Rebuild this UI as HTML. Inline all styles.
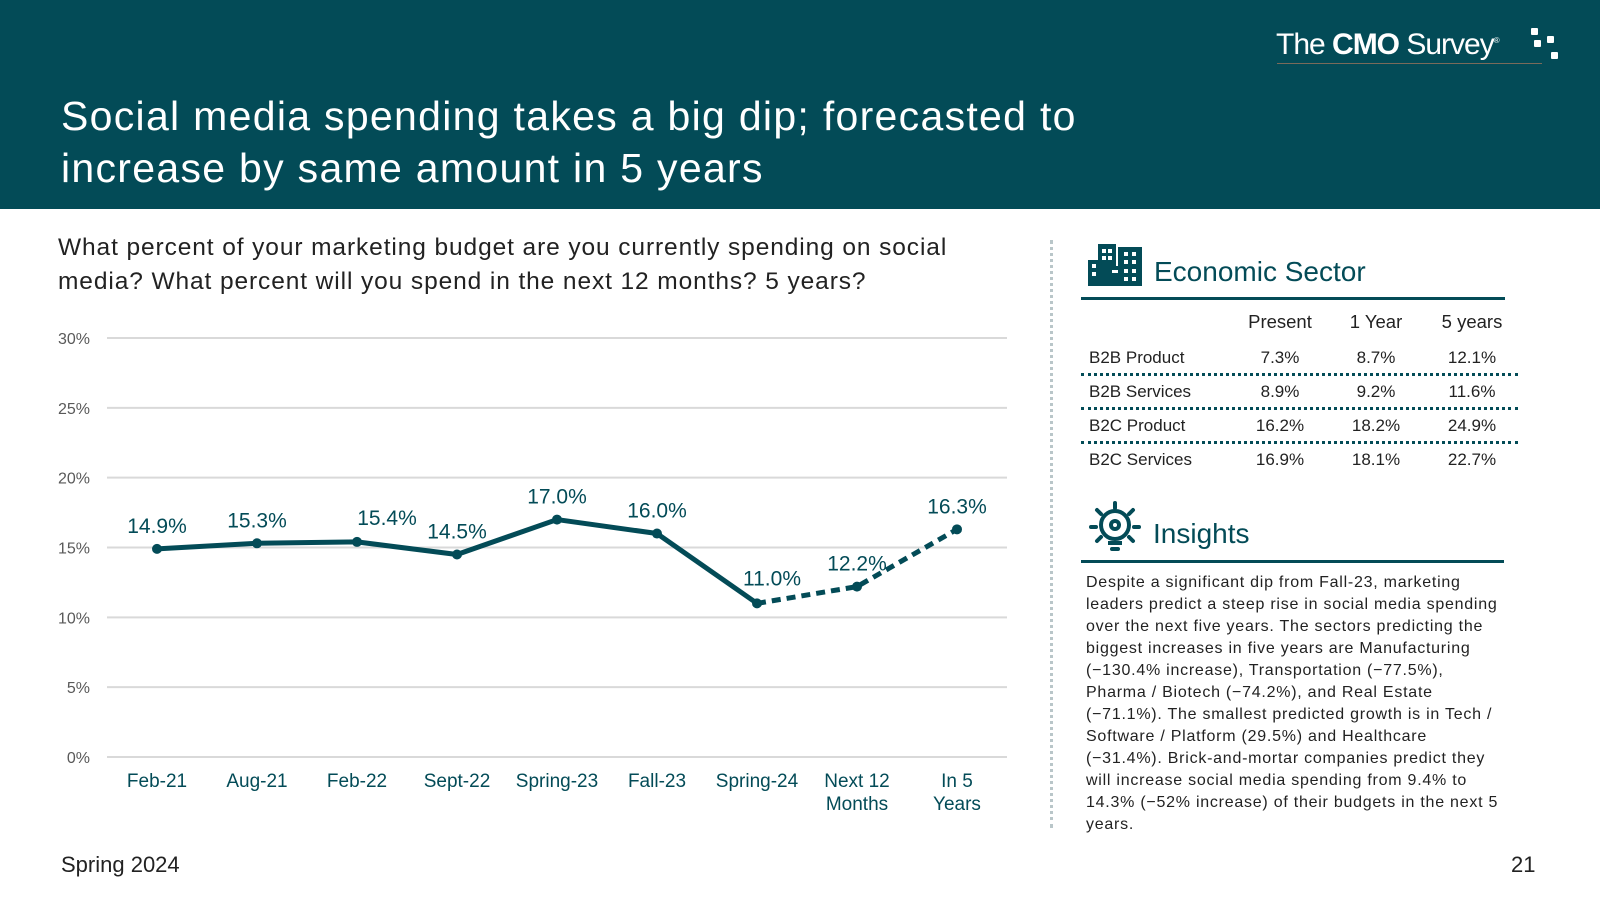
<!DOCTYPE html>
<html><head><meta charset="utf-8"><style>
body{margin:0;width:1600px;height:900px;background:#fff;font-family:"Liberation Sans",sans-serif;position:relative;overflow:hidden;color:#222}
.a{position:absolute;white-space:nowrap}
.teal{color:#034b57}
</style></head><body>
<div class="a" style="left:0;top:0;width:1600px;height:209px;background:#034b57"></div>
<div class="a" style="left:61px;top:90px;color:#fff;font-size:41px;line-height:52px;letter-spacing:1.3px;white-space:nowrap;width:1200px">Social media spending takes a big dip; forecasted to<br>increase by same amount in 5 years</div>
<div class="a" style="left:1276px;top:28px;color:#fff;font-size:30px;letter-spacing:-1px"><span style="font-weight:300">The </span><b>CMO</b><span> Survey</span><sup style="font-size:8px">®</sup></div>
<div class="a" style="left:1277px;top:63px;width:265px;height:1px;background:#7a6a5a"></div>
<svg class="a" style="left:1528px;top:26px" width="40" height="40"><rect x="3" y="2" width="7" height="7" rx="1" fill="#fff"/><rect x="6" y="14" width="7" height="7" rx="1" fill="#fff"/><rect x="19" y="10" width="7" height="7" rx="1" fill="#fff"/><rect x="23" y="26" width="7" height="7" rx="1" fill="#fff"/></svg>

<div class="a" style="left:58px;top:231px;font-size:24.5px;line-height:34px;letter-spacing:0.9px">What percent of your marketing budget are you currently spending on social<br>media? What percent will you spend in the next 12 months? 5 years?</div>

<svg id="chart" class="a" style="left:0;top:300px" width="1040" height="530"></svg>

<div class="a" style="left:1050px;top:240px;height:588px;border-left:3px dotted #b9c6c9"></div>

<svg class="a" style="left:1088px;top:244px" width="56" height="42" viewBox="0 0 56 42">
<rect x="0" y="16" width="18" height="26" fill="#034b57"/><rect x="10" y="0" width="18" height="42" fill="#034b57"/><rect x="30" y="3" width="24" height="39" fill="#034b57"/><rect x="20" y="22" width="14" height="20" fill="#034b57"/>
<g fill="#fff"><rect x="4" y="20" width="4" height="4"/><rect x="4" y="28" width="4" height="4"/><rect x="14" y="5" width="4" height="4"/><rect x="20" y="5" width="4" height="4"/><rect x="14" y="12" width="4" height="4"/><rect x="20" y="12" width="4" height="4"/><rect x="24" y="26" width="6" height="3"/><rect x="36" y="8" width="4" height="4"/><rect x="44" y="8" width="4" height="4"/><rect x="36" y="16" width="4" height="4"/><rect x="44" y="16" width="4" height="4"/><rect x="36" y="25" width="4" height="4"/><rect x="44" y="25" width="4" height="4"/><rect x="36" y="33" width="4" height="4"/><rect x="44" y="33" width="4" height="4"/></g></svg>
<div class="a teal" style="left:1154px;top:256px;font-size:28px">Economic Sector</div>
<div class="a" style="left:1081px;top:297px;width:424px;height:3px;background:#034b57"></div>

<div id="tbl"></div>

<svg class="a" style="left:1089px;top:501px" width="52" height="52" viewBox="0 0 52 52">
<g stroke="#034b57" stroke-width="4" stroke-linecap="round"><line x1="26" y1="2" x2="26" y2="7"/><line x1="8" y1="9" x2="12" y2="13"/><line x1="44" y1="9" x2="40" y2="13"/><line x1="2" y1="26" x2="7" y2="26"/><line x1="45" y1="26" x2="50" y2="26"/><line x1="8" y1="40" x2="12" y2="36"/><line x1="44" y1="40" x2="40" y2="36"/></g>
<circle cx="26" cy="24" r="14" fill="none" stroke="#034b57" stroke-width="4"/><circle cx="26" cy="24" r="6" fill="#034b57"/><circle cx="26" cy="24" r="2" fill="#fff"/>
<rect x="19" y="40" width="14" height="4" fill="#034b57"/><rect x="21" y="46" width="10" height="4" rx="2" fill="#034b57"/></svg>
<div class="a teal" style="left:1153px;top:518px;font-size:28px">Insights</div>
<div class="a" style="left:1081px;top:560px;width:423px;height:3px;background:#034b57"></div>
<div class="a" style="left:1086px;top:572px;font-size:16px;line-height:22px;letter-spacing:0.75px;color:#222">Despite a significant dip from Fall-23, marketing<br>leaders predict a steep rise in social media spending<br>over the next five years. The sectors predicting the<br>biggest increases in five years are Manufacturing<br>(−130.4% increase), Transportation (−77.5%),<br>Pharma / Biotech (−74.2%), and Real Estate<br>(−71.1%). The smallest predicted growth is in Tech /<br>Software / Platform (29.5%) and Healthcare<br>(−31.4%). Brick-and-mortar companies predict they<br>will increase social media spending from 9.4% to<br>14.3% (−52% increase) of their budgets in the next 5<br>years.</div>

<div class="a" style="left:61px;top:852px;font-size:22px">Spring 2024</div>
<div class="a" style="left:1511px;top:852px;font-size:22px">21</div>

<script>
const categories=["Feb-21","Aug-21","Feb-22","Sept-22","Spring-23","Fall-23","Spring-24","Next 12|Months","In 5|Years"];
const values=[14.9,15.3,15.4,14.5,17.0,16.0,11.0,12.2,16.3];
const valueLabels=["14.9%","15.3%","15.4%","14.5%","17.0%","16.0%","11.0%","12.2%","16.3%"];
const yTicks=[0,5,10,15,20,25,30];
const yTickLabels=["0%","5%","10%","15%","20%","25%","30%"];
const forecastStart=6;
const labelOffsets=[[0,-16],[0,-16],[30,-17],[0,-16],[0,-16],[0,-16],[15,-18],[0,-16],[0,-16]];

const svg=document.getElementById('chart');
const NS='http://www.w3.org/2000/svg';
const T=300;
const x0=107,band=100,yTop=338-T,yBot=757-T,yMax=30;
const xs=i=>x0+band*(i+0.5);
const ys=v=>yBot-(v/yMax)*(yBot-yTop);
function mk(tag,at){const e=document.createElementNS(NS,tag);for(const k in at)e.setAttribute(k,at[k]);svg.appendChild(e);return e;}
yTicks.forEach((t,i)=>{
  const g=mk('line',{x1:x0,x2:x0+band*categories.length,y1:ys(t),y2:ys(t),stroke:'#d9d9d9','stroke-width':2});
  
  
  const l=mk('text',{x:90,y:ys(t)+6,'text-anchor':'end','font-size':16,fill:'#595959','font-family':'Liberation Sans'});
  l.textContent=yTickLabels[i];
  
  
});
categories.forEach((c,i)=>{
  const parts=c.split('|');
  parts.forEach((p,j)=>{
    const t=mk('text',{x:xs(i),y:787-T+j*23,'text-anchor':'middle','font-size':19,fill:'#034b57','font-family':'Liberation Sans'});
    t.textContent=p;
    
    
  });
});
const solid=values.slice(0,forecastStart+1).map((v,i)=>xs(i)+','+ys(v)).join(' ');
const p1=mk('polyline',{points:solid,fill:'none',stroke:'#034b57','stroke-width':5,'stroke-linejoin':'round'});


const dash=values.slice(forecastStart).map((v,i)=>xs(i+forecastStart)+','+ys(v)).join(' ');
const p2=mk('polyline',{points:dash,fill:'none',stroke:'#034b57','stroke-width':5,'stroke-dasharray':'9 6'});


values.forEach((v,i)=>{
  const c=mk('circle',{cx:xs(i),cy:ys(v),r:5,fill:'#034b57'});
  
  
  const t=mk('text',{x:xs(i)+labelOffsets[i][0],y:ys(v)+labelOffsets[i][1],'text-anchor':'middle','font-size':21,fill:'#034b57','font-family':'Liberation Sans'});
  t.textContent=valueLabels[i];
  
  
});

const cols=["Present","1 Year","5 years"];
const rows=["B2B Product","B2B Services","B2C Product","B2C Services"];
const present=["7.3%","8.9%","16.2%","16.9%"];
const oneYear=["8.7%","9.2%","18.2%","18.1%"];
const fiveYears=["12.1%","11.6%","24.9%","22.7%"];
const colX=[1280,1376,1472];
const tbl=document.getElementById('tbl');
function div(txt,css,name){const d=document.createElement('div');d.className='a';d.style.cssText=css;d.textContent=txt;tbl.appendChild(d);}
cols.forEach((c,i)=>div(c,`left:${colX[i]-60}px;width:120px;text-align:center;top:311px;font-size:18.5px`,'column-header'));
rows.forEach((r,j)=>{
  const y=348+j*34;
  div(r,`left:1089px;top:${y}px;font-size:17px`,'row-label');
  [present,oneYear,fiveYears].forEach((arr,i)=>div(arr[j],`left:${colX[i]-60}px;width:120px;text-align:center;top:${y}px;font-size:17px`,'cell'));
  if(j<3)div('',`left:1081px;top:${y+25}px;width:437px;border-top:3px dotted #034b57`,'row-separator');
});
</script>
</body></html>
